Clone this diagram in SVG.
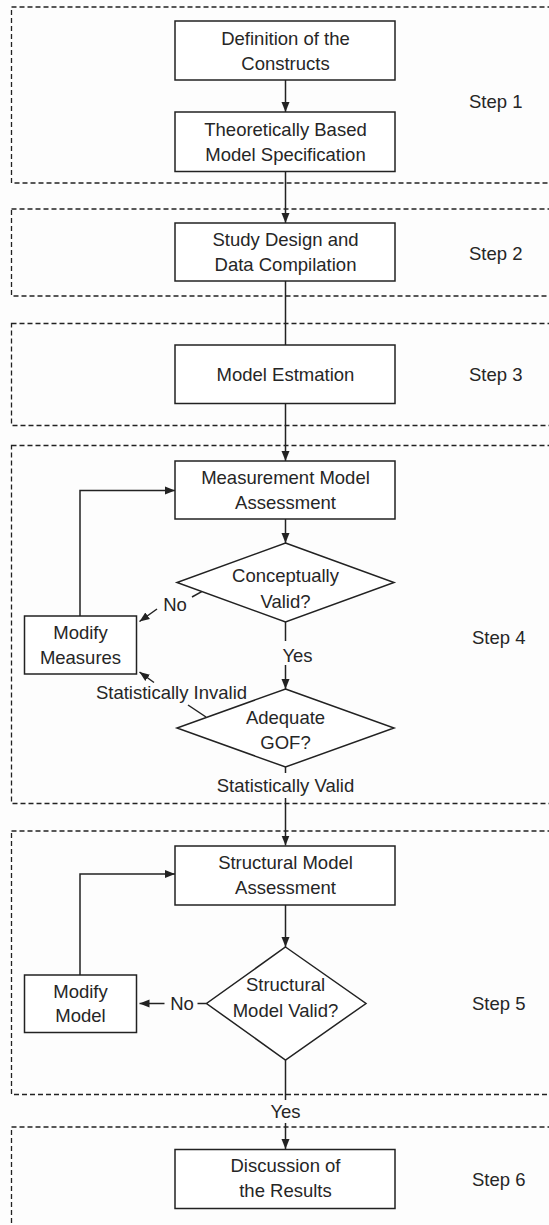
<svg xmlns="http://www.w3.org/2000/svg" width="549" height="1225" viewBox="0 0 549 1225">
  <defs>
    <marker id="arrow" markerUnits="userSpaceOnUse" markerWidth="10" markerHeight="10" viewBox="0 0 10 10" refX="10" refY="5" orient="auto">
      <path d="M0,1 L10,5 L0,9 Z" fill="#222"/>
    </marker>
    <style>
      .stage { fill: none; stroke: #222; stroke-width: 1.3; stroke-dasharray: 5 3; }
      .box { fill: #fff; stroke: #222; stroke-width: 1.5; }
      .line { fill: none; stroke: #222; stroke-width: 1.5; }
      .arr { fill: none; stroke: #222; stroke-width: 1.5; marker-end: url(#arrow); }
      text { font-family: "Liberation Sans", Arial, sans-serif; font-size: 18.5px; fill: #262626; }
      .c { text-anchor: middle; }
    </style>
  </defs>

  <rect width="549" height="1225" fill="#fdfdfd"/>

  <!-- stage frames (open to the right edge) -->
  <g id="stages">
    <rect class="stage" x="11.5" y="7" width="560" height="176"/>
    <rect class="stage" x="11.5" y="209" width="560" height="87"/>
    <rect class="stage" x="11.5" y="323.5" width="560" height="102"/>
    <rect class="stage" x="11.5" y="445.5" width="560" height="358"/>
    <rect class="stage" x="11.5" y="831" width="560" height="263.5"/>
    <rect class="stage" x="11.5" y="1127" width="560" height="120"/>
  </g>

  <!-- stage labels -->
  <g id="step-labels">
    <text x="469" y="108">Step 1</text>
    <text x="469" y="260">Step 2</text>
    <text x="469" y="381">Step 3</text>
    <text x="472" y="644">Step 4</text>
    <text x="472" y="1010">Step 5</text>
    <text x="472" y="1186">Step 6</text>
  </g>

  <!-- connectors -->
  <g id="connectors">
    <line class="arr" x1="285.5" y1="80" x2="285.5" y2="112"/>
    <line class="arr" x1="285.5" y1="171.5" x2="285.5" y2="223"/>
    <line class="line" x1="285.5" y1="281" x2="285.5" y2="345"/>
    <line class="arr" x1="285.5" y1="403.5" x2="285.5" y2="461"/>
    <line class="arr" x1="285.5" y1="519" x2="285.5" y2="543"/>
    <polyline class="arr" points="80,616 80,490.5 175,490.5"/>
    <!-- Conceptually Valid? : No -->
    <line class="line" x1="201.7" y1="591.6" x2="192" y2="597"/>
    <line class="arr" x1="157" y1="609" x2="139.5" y2="621.5"/>
    <!-- Conceptually Valid? : Yes -->
    <line class="line" x1="285.5" y1="622" x2="285.5" y2="641"/>
    <line class="arr" x1="285.5" y1="665" x2="285.5" y2="689"/>
    <!-- Adequate GOF? : Statistically Invalid -->
    <line class="line" x1="206" y1="717" x2="188" y2="705"/>
    <line class="arr" x1="154" y1="682.5" x2="139.5" y2="672"/>
    <!-- Adequate GOF? : Statistically Valid -->
    <line class="line" x1="285.5" y1="767" x2="285.5" y2="773"/>
    <line class="arr" x1="285.5" y1="798" x2="285.5" y2="845.5"/>
    <polyline class="arr" points="80,975 80,874 175,874"/>
    <line class="arr" x1="285.5" y1="905" x2="285.5" y2="947"/>
    <!-- Structural Model Valid? : No -->
    <line class="line" x1="206.5" y1="1003.5" x2="197.5" y2="1003.5"/>
    <line class="arr" x1="164.5" y1="1003.5" x2="139.5" y2="1003.5"/>
    <!-- Structural Model Valid? : Yes -->
    <line class="line" x1="285.5" y1="1060" x2="285.5" y2="1100"/>
    <line class="arr" x1="285.5" y1="1123" x2="285.5" y2="1149"/>
  </g>

  <!-- connector labels -->
  <g id="connector-labels">
    <text x="175" y="611" class="c">No</text>
    <text x="297.5" y="662" class="c">Yes</text>
    <text x="171.5" y="698.5" class="c">Statistically Invalid</text>
    <text x="285.5" y="792" class="c">Statistically Valid</text>
    <text x="182" y="1010" class="c">No</text>
    <text x="285.5" y="1117.5" class="c">Yes</text>
  </g>

  <g id="definition-of-constructs">
    <rect class="box" x="175" y="21" width="220" height="59"/>
    <text x="285.5" y="45" class="c">Definition of the</text>
    <text x="285.5" y="69.5" class="c">Constructs</text>
  </g>

  <g id="model-specification">
    <rect class="box" x="175" y="112" width="220" height="59.5"/>
    <text x="285.5" y="135.5" class="c">Theoretically Based</text>
    <text x="285.5" y="160.5" class="c">Model Specification</text>
  </g>

  <g id="study-design">
    <rect class="box" x="175" y="223" width="220" height="58"/>
    <text x="285.5" y="245.5" class="c">Study Design and</text>
    <text x="285.5" y="270.5" class="c">Data Compilation</text>
  </g>

  <g id="model-estimation">
    <rect class="box" x="175" y="345" width="220" height="58.5"/>
    <text x="285.5" y="381" class="c">Model Estmation</text>
  </g>

  <g id="measurement-model">
    <rect class="box" x="175" y="461" width="220" height="58"/>
    <text x="285.5" y="483.5" class="c">Measurement Model</text>
    <text x="285.5" y="508.5" class="c">Assessment</text>
  </g>

  <g id="conceptually-valid">
    <polygon class="box" points="285.5,543 394,582.5 285.5,622 177,582.5"/>
    <text x="285.5" y="581.5" class="c">Conceptually</text>
    <text x="285.5" y="607.5" class="c">Valid?</text>
  </g>

  <g id="modify-measures">
    <rect class="box" x="24.5" y="616" width="112" height="58"/>
    <text x="80.5" y="639" class="c">Modify</text>
    <text x="80.5" y="663.5" class="c">Measures</text>
  </g>

  <g id="adequate-gof">
    <polygon class="box" points="285.5,689 394,728 285.5,767 177,728"/>
    <text x="285.5" y="723.5" class="c">Adequate</text>
    <text x="285.5" y="748.5" class="c">GOF?</text>
  </g>

  <g id="structural-model">
    <rect class="box" x="175" y="846" width="220" height="59"/>
    <text x="285.5" y="868.5" class="c">Structural Model</text>
    <text x="285.5" y="893.5" class="c">Assessment</text>
  </g>

  <g id="structural-model-valid">
    <polygon class="box" points="285.5,947 366,1003.5 285.5,1060 206.5,1003.5"/>
    <text x="285.5" y="990.5" class="c">Structural</text>
    <text x="285.5" y="1017" class="c">Model Valid?</text>
  </g>

  <g id="modify-model">
    <rect class="box" x="24.5" y="975" width="112" height="57.5"/>
    <text x="80.5" y="997.5" class="c">Modify</text>
    <text x="80.5" y="1022" class="c">Model</text>
  </g>

  <g id="discussion">
    <rect class="box" x="175" y="1149.5" width="220" height="59"/>
    <text x="285.5" y="1172" class="c">Discussion of</text>
    <text x="285.5" y="1197" class="c">the Results</text>
  </g>
</svg>
